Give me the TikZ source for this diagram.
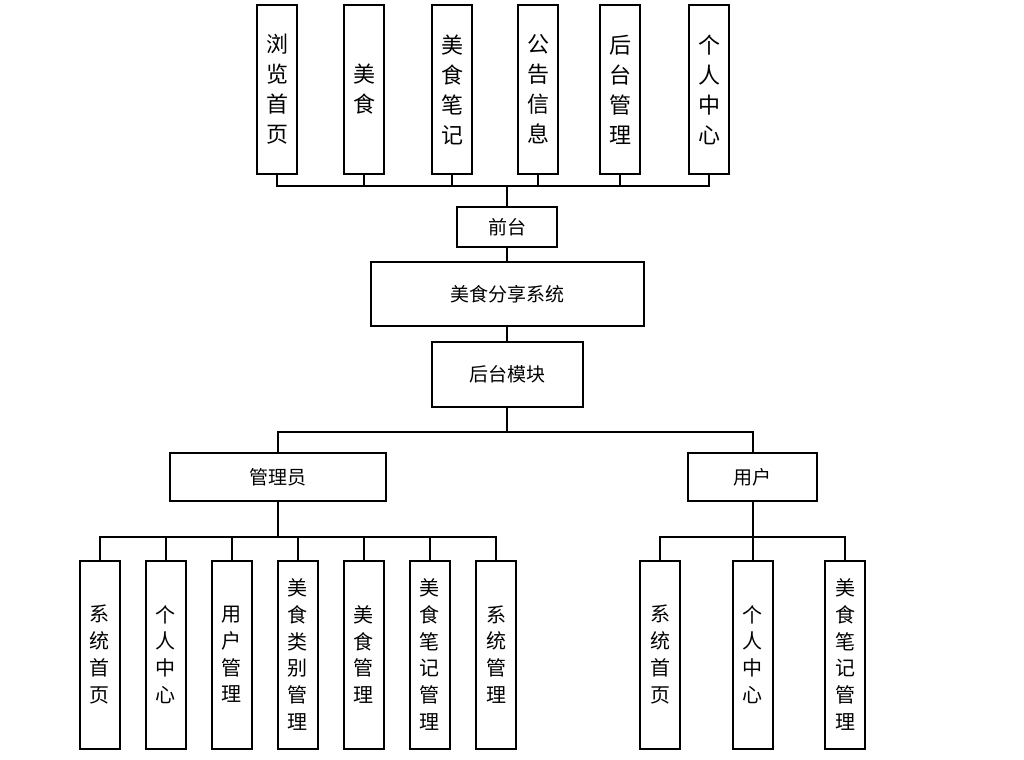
\documentclass[tikz,border=0pt]{standalone}
\usepackage{fontspec}
\newfontfamily\cjk{Noto Sans CJK SC}
\usetikzlibrary{positioning,calc}

\begin{document}
\begin{tikzpicture}[
  x=0.5pt, y=-0.5pt,
  line width=1pt,
  topitem/.style={
    draw, line width=1pt, minimum width=20pt, minimum height=84.5pt,
    inner sep=0pt, align=center, font=\cjk\fontsize{11}{15}\selectfont,
  },
  subitem/.style={
    draw, line width=1pt, minimum width=20pt, minimum height=94pt,
    inner sep=0pt, align=center, font=\cjk\fontsize{10}{13.4}\selectfont,
  },
  hubbox/.style={
    draw, line width=1pt, inner sep=0pt, align=center,
    font=\cjk\fontsize{9.5}{11}\selectfont,
  },
]
\useasboundingbox (0,0) rectangle (1024,760);

% --- front-end modules (top row) ---
\node[topitem] (browse) at (277,89.5) {浏\\览\\首\\页};
\node[topitem] (food)   at (364,89.5) {美\\食};
\node[topitem] (notes)  at (452,89.5) {美\\食\\笔\\记};
\node[topitem] (notice) at (538,89.5) {公\\告\\信\\息};
\node[topitem] (admin)  at (620,89.5) {后\\台\\管\\理};
\node[topitem] (center) at (709,89.5) {个\\人\\中\\心};

% --- trunk ---
\node[hubbox, minimum width=50pt, minimum height=20pt] (front) at (507,227) {前台};
\node[hubbox, minimum width=136.5pt, minimum height=32pt] (system) at (507,294) {美食分享系统};
\node[hubbox, minimum width=75.5pt, minimum height=32.5pt] (backend) at (507,374) {后台模块};

% --- roles ---
\node[hubbox, minimum width=108pt, minimum height=24pt] (manager) at (277.5,477) {管理员};
\node[hubbox, minimum width=64.5pt, minimum height=24pt] (user) at (752.5,477) {用户};

% --- manager functions ---
\node[subitem] (mhome)   at (99.5,654.5)  {系\\统\\首\\页};
\node[subitem] (mself)   at (165.5,654.5) {个\\人\\中\\心};
\node[subitem] (muser)   at (231.5,654.5) {用\\户\\管\\理};
\node[subitem] (mcat)    at (297.5,654.5) {美\\食\\类\\别\\管\\理};
\node[subitem] (mfood)   at (363.5,654.5) {美\\食\\管\\理};
\node[subitem] (mnotes)  at (429.7,654.5) {美\\食\\笔\\记\\管\\理};
\node[subitem] (msys)    at (496,654.5)   {系\\统\\管\\理};

% --- user functions ---
\node[subitem] (uhome)  at (660,654.5)   {系\\统\\首\\页};
\node[subitem] (uself)  at (752.5,654.5) {个\\人\\中\\心};
\node[subitem] (unotes) at (845,654.5)   {美\\食\\笔\\记\\管\\理};

% bus junctions
\coordinate (topbus)   at (507,186);
\coordinate (midbus)   at (507,432);
\coordinate (mgrbus)   at (277.5,537);
\coordinate (userbus)  at (752.5,537);

\draw (browse.south) |- (topbus);
\draw (food.south)   |- (topbus);
\draw (notes.south)  |- (topbus);
\draw (notice.south) |- (topbus);
\draw (admin.south)  |- (topbus);
\draw (center.south) |- (topbus);
\draw (topbus) -- (front.north);

\draw (front) -- (system);
\draw (system) -- (backend);

\draw (backend.south) -- (midbus);
\draw (manager.north) |- (midbus);
\draw (user.north) |- (midbus);

\draw (manager.south) -- (mgrbus);
\draw (mhome.north)  |- (mgrbus);
\draw (mself.north)  |- (mgrbus);
\draw (muser.north)  |- (mgrbus);
\draw (mcat.north)   |- (mgrbus);
\draw (mfood.north)  |- (mgrbus);
\draw (mnotes.north) |- (mgrbus);
\draw (msys.north)   |- (mgrbus);

\draw (user.south) -- (userbus);
\draw (uhome.north)  |- (userbus);
\draw (uself.north)  |- (userbus);
\draw (unotes.north) |- (userbus);

\end{tikzpicture}
\end{document}
